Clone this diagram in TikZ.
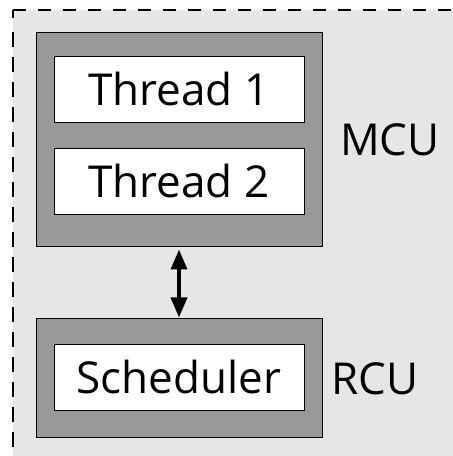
\documentclass[tikz,border=0pt]{standalone}
\usepackage{fontspec}
\setmainfont{Open Sans}
\usetikzlibrary{arrows.meta}
\definecolor{panelgray}{HTML}{E6E6E6}
\definecolor{unitgray}{HTML}{999999}
\tikzset{
  unitbox/.style={draw=black, line width=1pt, fill=unitgray, inner sep=0pt},
  taskbox/.style={draw=black, line width=1pt, fill=white, inner sep=0pt,
    minimum width=250pt, minimum height=66pt, font=\fontsize{44}{50}\selectfont,
    text height=32pt, text depth=0pt},
  unitlabel/.style={font=\fontsize{44}{50}\selectfont, inner sep=0pt, anchor=west,
    text height=32pt, text depth=0pt},
  tiphead/.tip={Triangle[length=20pt 0 1, width=16pt 0 1]},
  link/.style={line width=3.5pt, tiphead-tiphead, shorten <=2pt, shorten >=1pt}
}
\begin{document}
\begin{tikzpicture}[x=1pt,y=1pt]
\useasboundingbox (0,0) rectangle (453,456);
% surrounding panel
\fill[panelgray] (13,0) rectangle (453,446);
\draw[line width=1.6pt, dash pattern=on 13pt off 12pt] (13,446) -- (453,446);
\draw[line width=1.6pt, dash pattern=on 8pt off 14pt on 15pt off 10pt on 15pt off 10pt on 15pt off 10pt on 15pt off 10pt on 15pt off 10pt on 15pt off 10pt on 15pt off 10pt on 15pt off 10pt on 15pt off 10pt on 15pt off 10pt on 15pt off 10pt on 15pt off 10pt on 15pt off 10pt on 15pt off 10pt on 15pt off 10pt on 15pt off 10pt on 15pt off 10pt on 15pt off 10pt] (13,446) -- (13,0);
% MCU with its two threads
\node[unitbox, minimum width=286pt, minimum height=214pt] (mcu) at (179,316) {};
\node[taskbox] (t1) at (179,366) {Thread 1};
\node[taskbox] (t2) at (179,274) {Thread 2};
\node[unitlabel] (mculabel) at (340,316) {MCU};
% RCU with the scheduler
\node[unitbox, minimum width=286pt, minimum height=119pt] (rcu) at (179,77.5) {};
\node[taskbox] (sched) at (179,78) {Scheduler};
\node[unitlabel] (rculabel) at (331,77.5) {RCU};
% link between the units
\draw[link] (mcu.south) -- (rcu.north);
\end{tikzpicture}
\end{document}
